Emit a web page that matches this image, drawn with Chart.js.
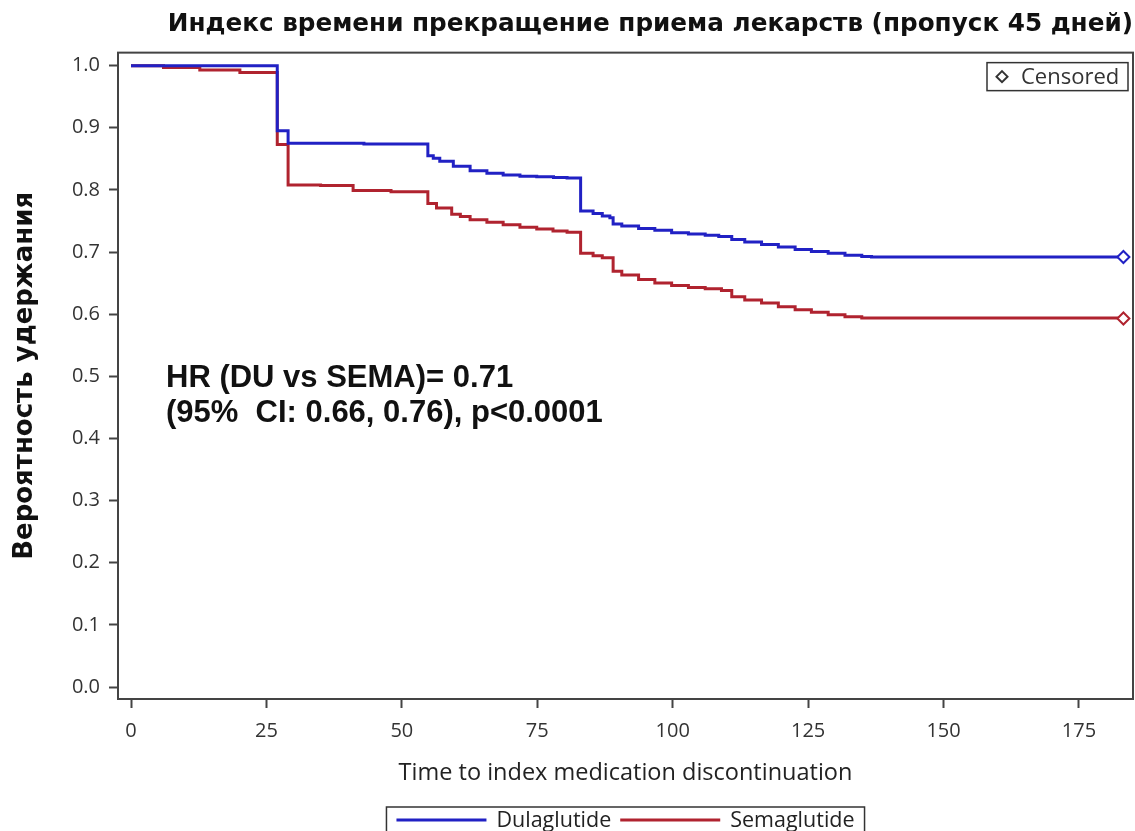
<!DOCTYPE html>
<html>
<head>
<meta charset="utf-8">
<script src="https://cdn.jsdelivr.net/npm/chart.js@4.4.1/dist/chart.umd.min.js"></script>
<style>
html, body { margin: 0; padding: 0; background: #ffffff; }
</style>
</head>
<body>
<canvas id="kmChart" width="1135" height="831"></canvas>
<script>
"use strict";

var titleText = "Индекс времени прекращение приема лекарств (пропуск 45 дней)";
var yTitleText = "Вероятность удержания";
var xTitleText = "Time to index medication discontinuation";
var hrLines = ["HR (DU vs SEMA)= 0.71", "(95%  CI: 0.66, 0.76), p<0.0001"];

var xTicks = [0, 25, 50, 75, 100, 125, 150, 175];
var yTicks = [0.0, 0.1, 0.2, 0.3, 0.4, 0.5, 0.6, 0.7, 0.8, 0.9, 1.0];

// Kaplan-Meier steps: survival value after each event time
var duTime = [0, 27, 29, 43, 54.8, 55.8, 57, 59.5, 62.6, 65.7, 68.7, 71.8, 74.9, 78, 80.5,
	83, 85.3, 87, 88.4, 89, 90.6, 93.7, 96.7, 99.8, 102.9, 106, 108.5, 110.9, 113.3,
	116.4, 119.5, 122.6, 125.6, 128.7, 131.8, 134.9, 136.7, 183.2];
var duSurv = [1.0, 0.895, 0.875, 0.874, 0.855, 0.851, 0.846, 0.838, 0.831, 0.827, 0.824, 0.822, 0.821, 0.820, 0.819,
	0.766, 0.762, 0.758, 0.755, 0.745, 0.742, 0.738, 0.735, 0.731, 0.729, 0.727, 0.725, 0.720, 0.716,
	0.712, 0.708, 0.704, 0.701, 0.698, 0.695, 0.693, 0.692, 0.692];

var seTime = [0, 6, 12.7, 20.1, 27, 29, 35, 41, 48, 54.8, 56.4, 59.2, 60.8, 62.6, 65.7, 68.7,
	71.8, 74.9, 77.9, 80.5, 83, 85.3, 87, 89, 90.6, 93.7, 96.7, 99.8, 102.9, 106, 109,
	110.9, 113.3, 116.4, 119.5, 122.6, 125.6, 128.7, 131.8, 134.9, 183.2];
var seSurv = [1.0, 0.997, 0.993, 0.989, 0.873, 0.808, 0.807, 0.799, 0.797, 0.778, 0.771, 0.761, 0.757, 0.752, 0.748, 0.744,
	0.740, 0.737, 0.734, 0.732, 0.698, 0.694, 0.691, 0.669, 0.663, 0.656, 0.650, 0.646, 0.643, 0.641, 0.638,
	0.628, 0.623, 0.618, 0.612, 0.607, 0.603, 0.599, 0.596, 0.594, 0.593];

var seriesNames = ["Dulaglutide", "Semaglutide"];
var seriesColors = ["#2121c4", "#b0232f"];

var sansFamily = "'Open Sans', 'Noto Sans', sans-serif";
var headFamily = "'DejaVu Sans', 'Open Sans', sans-serif";
var tickFont = { family: sansFamily, size: 20 };
var axisColor = "#444444";

function toPoints(times, values) {
	return times.map((t, i) => ({ x: t, y: values[i] }));
}

// censored mark only on the last observation
function censorRadius(ctx) {
	return ctx.dataIndex === ctx.dataset.data.length - 1 ? 6 : 0;
}

function makeDataset(idx, times, values) {
	return {
		label: seriesNames[idx],
		data: toPoints(times, values),
		borderColor: seriesColors[idx],
		backgroundColor: "#ffffff",
		borderWidth: 3,
		stepped: true,
		pointStyle: "rectRot",
		pointRadius: censorRadius,
		pointHoverRadius: censorRadius,
		pointBorderWidth: 2,
		pointBorderColor: seriesColors[idx]
	};
}

// keep the plot flush with the canvas edges
function noSidePadding(scale) {
	scale.paddingLeft = 0;
	scale.paddingRight = 0;
}

var decorPlugin = {
	id: "decor",
	afterDraw(chart) {
		var ctx = chart.ctx;
		var a = chart.chartArea;
		ctx.save();

		// frame around the plot
		ctx.strokeStyle = axisColor;
		ctx.lineWidth = 2;
		ctx.strokeRect(a.left, a.top, a.right - a.left, a.bottom - a.top);

		// hazard ratio note
		ctx.fillStyle = "#111111";
		ctx.textAlign = "left";
		ctx.textBaseline = "middle";
		ctx.font = "bold 31px 'Liberation Sans', Arial, sans-serif";
		ctx.fillText(hrLines[0], a.left + 48, a.top + 326);
		ctx.fillText(hrLines[1], a.left + 48, a.top + 361);

		// censored key, top right inside the plot
		var bx = a.right - 146, by = a.top + 10, bw = 141, bh = 28;
		ctx.lineWidth = 1.5;
		ctx.strokeStyle = "#333333";
		ctx.strokeRect(bx, by, bw, bh);
		var dx = bx + 15, dy = by + bh / 2, r = 5.5;
		ctx.beginPath();
		ctx.moveTo(dx, dy - r);
		ctx.lineTo(dx + r, dy);
		ctx.lineTo(dx, dy + r);
		ctx.lineTo(dx - r, dy);
		ctx.closePath();
		ctx.lineWidth = 2;
		ctx.stroke();
		ctx.fillStyle = "#333333";
		ctx.font = "22px " + sansFamily;
		ctx.fillText("Censored", bx + 34, dy + 1);

		// series key below the axis title
		ctx.font = "21.5px " + sansFamily;
		var lineLens = [90, 100], gapA = 10, gapB = 9, pad = 10;
		var w0 = ctx.measureText(seriesNames[0]).width;
		var w1 = ctx.measureText(seriesNames[1]).width;
		var total = pad + lineLens[0] + gapA + w0 + gapB + lineLens[1] + gapA + w1 + pad;
		var lx = (a.left + a.right) / 2 - total / 2;
		var ly = 807;
		ctx.lineWidth = 1.5;
		ctx.strokeStyle = "#333333";
		ctx.strokeRect(lx, ly, total, 40);
		var cy = ly + 13;
		var x = lx + pad;
		for (var i = 0; i < 2; i++) {
			ctx.strokeStyle = seriesColors[i];
			ctx.lineWidth = 3;
			ctx.beginPath();
			ctx.moveTo(x, cy);
			ctx.lineTo(x + lineLens[i], cy);
			ctx.stroke();
			x += lineLens[i] + gapA;
			ctx.fillStyle = "#222222";
			ctx.fillText(seriesNames[i], x, cy + 1);
			x += (i === 0 ? w0 : w1) + gapB;
		}
		ctx.restore();
	}
};

var ctx = document.getElementById("kmChart").getContext("2d");

var chart = new Chart(ctx, {
	type: "line",
	data: {
		datasets: [
			makeDataset(0, duTime, duSurv),
			makeDataset(1, seTime, seSurv)
		]
	},
	options: {
		responsive: false,
		animation: false,
		layout: { autoPadding: false, padding: { left: 0, right: 2, top: 0, bottom: 46 } },
		plugins: {
			legend: { display: false },
			tooltip: { enabled: false },
			title: {
				display: true,
				text: titleText,
				align: "end",
				color: "#111111",
				font: { family: headFamily, size: 24.7, weight: "bold", lineHeight: 1.2 },
				padding: { top: 10, bottom: 13 }
			}
		},
		scales: {
			x: {
				type: "linear",
				min: -2.4,
				max: 184.97,
				afterBuildTicks: (scale) => { scale.ticks = xTicks.map((v) => ({ value: v })); },
				afterFit: (scale) => { scale.height = 86; noSidePadding(scale); },
				grid: { drawOnChartArea: false, drawTicks: true, tickLength: 9, tickColor: axisColor, tickWidth: 2 },
				border: { display: true, color: axisColor, width: 2 },
				ticks: { font: tickFont, color: "#333333", padding: 11, maxRotation: 0 },
				title: {
					display: true,
					text: xTitleText,
					color: "#222222",
					font: { family: sansFamily, size: 23.5 },
					padding: { top: 0, bottom: -2 }
				}
			},
			y: {
				type: "linear",
				min: -0.0193,
				max: 1.0209,
				afterBuildTicks: (scale) => { scale.ticks = yTicks.map((v) => ({ value: v })); },
				afterFit: (scale) => { scale.width = 118; },
				grid: { drawOnChartArea: false, drawTicks: true, tickLength: 9, tickColor: axisColor, tickWidth: 2 },
				border: { display: true, color: axisColor, width: 2 },
				ticks: {
					font: tickFont,
					color: "#333333",
					padding: 9,
					callback: (v) => Number(v).toFixed(1)
				},
				title: {
					display: true,
					text: yTitleText,
					color: "#111111",
					font: { family: headFamily, size: 26, weight: "bold", lineHeight: 1.2 },
					padding: { top: 10, bottom: 0 }
				}
			}
		}
	},
	plugins: [decorPlugin]
});
</script>
</body>
</html>
